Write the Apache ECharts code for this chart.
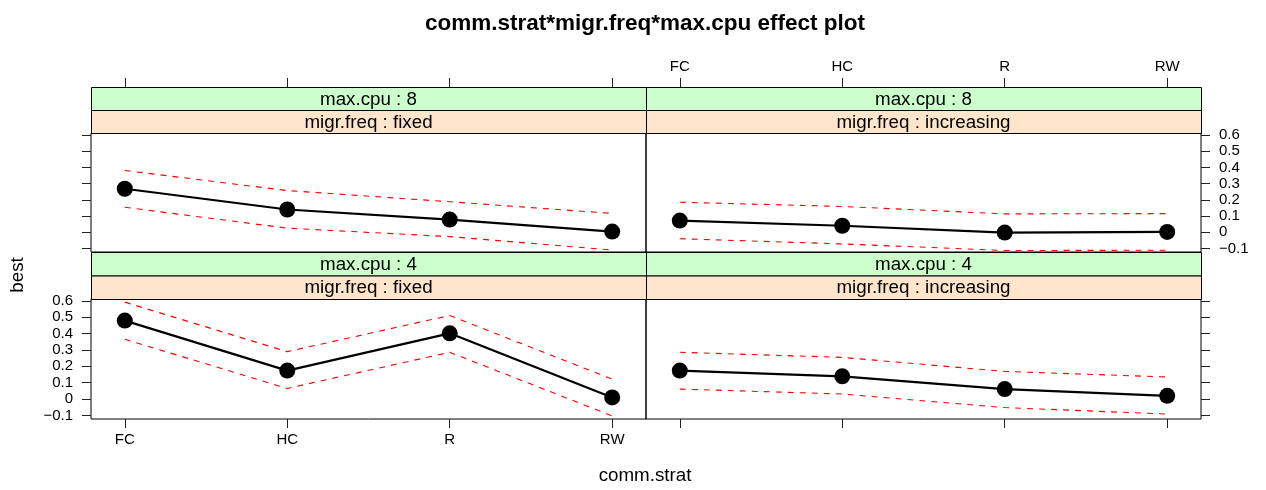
<!DOCTYPE html>
<html>
<head>
<meta charset="utf-8">
<script src="https://cdn.jsdelivr.net/npm/echarts@6/dist/echarts.min.js"></script>
<style>
html,body{margin:0;padding:0;background:#fff;}
#chart{width:1266px;height:490px;}
</style>
</head>
<body>
<div id="chart"></div>
<script>
// ---- data ----
const categories = ['FC', 'HC', 'R', 'RW'];
const yTicks = [-0.1, 0, 0.1, 0.2, 0.3, 0.4, 0.5, 0.6];
const yTickLabels = ['\u22120.1', '0', '0.1', '0.2', '0.3', '0.4', '0.5', '0.6'];

// max.cpu : 8, migr.freq : fixed
const fitCpu8Fixed   = [0.268, 0.140, 0.078, 0.004];
const upperCpu8Fixed = [0.381, 0.257, 0.188, 0.116];
const lowerCpu8Fixed = [0.154, 0.025, -0.027, -0.110];
// max.cpu : 8, migr.freq : increasing
const fitCpu8Incr    = [0.072, 0.040, -0.002, 0.002];
const upperCpu8Incr  = [0.185, 0.159, 0.113, 0.115];
const lowerCpu8Incr  = [-0.040, -0.072, -0.113, -0.111];
// max.cpu : 4, migr.freq : fixed
const fitCpu4Fixed   = [0.480, 0.174, 0.402, 0.010];
const upperCpu4Fixed = [0.593, 0.290, 0.511, 0.122];
const lowerCpu4Fixed = [0.366, 0.065, 0.286, -0.103];
// max.cpu : 4, migr.freq : increasing
const fitCpu4Incr    = [0.174, 0.139, 0.061, 0.020];
const upperCpu4Incr  = [0.286, 0.255, 0.169, 0.135];
const lowerCpu4Incr  = [0.061, 0.031, -0.052, -0.092];

const stripTop = ['max.cpu : 8', 'max.cpu : 8', 'max.cpu : 4', 'max.cpu : 4'];
const stripBottom = ['migr.freq : fixed', 'migr.freq : increasing', 'migr.freq : fixed', 'migr.freq : increasing'];

// ---- layout ----
const FONT = "'Liberation Sans', Arial, sans-serif";
const L = 91, MID = 646, R = 1201;
const PW = MID - L;
const rows = [{ s1: 87, s2: 110, top: 133, h: 119 }, { s1: 252, s2: 275.5, top: 299, h: 120 }];
const panels = [
  { col: 0, row: 0, fit: fitCpu8Fixed, up: upperCpu8Fixed, lo: lowerCpu8Fixed },
  { col: 1, row: 0, fit: fitCpu8Incr, up: upperCpu8Incr, lo: lowerCpu8Incr },
  { col: 0, row: 1, fit: fitCpu4Fixed, up: upperCpu4Fixed, lo: lowerCpu4Fixed },
  { col: 1, row: 1, fit: fitCpu4Incr, up: upperCpu4Incr, lo: lowerCpu4Incr }
];
const toXY = arr => arr.map((v, i) => [i + 1, v]);

const grid = [], xAxis = [], yAxis = [], series = [], graphic = [];
panels.forEach((p, i) => {
  const r = rows[p.row];
  const left = p.col === 0 ? L : MID;
  grid.push({ left: left, top: r.top, width: PW, height: r.h, show: true,
    borderColor: '#000', borderWidth: 1, backgroundColor: 'transparent' });
  const xLabels = (p.row === 0 && p.col === 1) || (p.row === 1 && p.col === 0);
  xAxis.push({
    type: 'value', gridIndex: i, min: 0.792, max: 4.208,
    position: p.row === 0 ? 'top' : 'bottom',
    offset: p.row === 0 ? (r.top - r.s1) : 0,
    axisLine: { show: false, onZero: false }, splitLine: { show: false },
    axisTick: { show: true, inside: false, length: 9, customValues: [1, 2, 3, 4],
      lineStyle: { color: '#222', width: 1 } },
    axisLabel: { show: xLabels, customValues: [1, 2, 3, 4], margin: 13,
      fontFamily: FONT, fontSize: 15, color: '#000',
      formatter: v => categories[Math.round(v) - 1] }
  });
  const yLabels = (p.row === 0 && p.col === 1) || (p.row === 1 && p.col === 0);
  yAxis.push({
    type: 'value', gridIndex: i, min: -0.122, max: 0.612,
    position: p.col === 0 ? 'left' : 'right',
    axisLine: { show: false, onZero: false }, splitLine: { show: false },
    axisTick: { show: true, inside: false, length: 9, customValues: yTicks,
      lineStyle: { color: '#222', width: 1 } },
    axisLabel: { show: yLabels, customValues: yTicks, margin: 18,
      fontFamily: FONT, fontSize: 15, color: '#000',
      formatter: v => { const k = yTicks.findIndex(t => Math.abs(t - v) < 1e-6); return k >= 0 ? yTickLabels[k] : ''; } }
  });
  const dashed = { color: '#ff0000', width: 1.1, type: [6, 6] };
  series.push({ type: 'line', xAxisIndex: i, yAxisIndex: i, data: toXY(p.up), symbol: 'none',
    lineStyle: dashed, silent: true, z: 2 });
  series.push({ type: 'line', xAxisIndex: i, yAxisIndex: i, data: toXY(p.lo), symbol: 'none',
    lineStyle: dashed, silent: true, z: 2 });
  series.push({ type: 'line', xAxisIndex: i, yAxisIndex: i, data: toXY(p.fit), symbol: 'circle',
    symbolSize: 16, itemStyle: { color: '#000' }, lineStyle: { color: '#000', width: 2.2 },
    silent: true, z: 3 });
  // strips
  graphic.push({ type: 'rect', shape: { x: left + 0.5, y: r.s1 + 0.5, width: PW, height: r.s2 - r.s1 },
    style: { fill: '#ccffcc', stroke: '#000', lineWidth: 1 }, z: 10 });
  graphic.push({ type: 'rect', shape: { x: left + 0.5, y: r.s2 + 0.5, width: PW, height: r.top - r.s2 },
    style: { fill: '#ffe5cc', stroke: '#000', lineWidth: 1 }, z: 10 });
  graphic.push({ type: 'text', x: left + PW / 2, y: (r.s1 + r.s2) / 2 + 1, z: 11,
    style: { text: stripTop[i], font: '18.75px ' + FONT, fill: '#000', align: 'center', verticalAlign: 'middle' } });
  graphic.push({ type: 'text', x: left + PW / 2, y: (r.s2 + r.top) / 2 + 1, z: 11,
    style: { text: stripBottom[i], font: '18.75px ' + FONT, fill: '#000', align: 'center', verticalAlign: 'middle' } });
});

graphic.push({ type: 'text', x: 18, y: 275, rotation: Math.PI / 2,
  style: { text: 'best', font: '18.75px ' + FONT, fill: '#000', align: 'center', verticalAlign: 'middle' } });
graphic.push({ type: 'text', x: 645, y: 476,
  style: { text: 'comm.strat', font: '18.75px ' + FONT, fill: '#000', align: 'center', verticalAlign: 'middle' } });

const chart = echarts.init(document.getElementById('chart'), null, { renderer: 'canvas' });
chart.setOption({
  animation: false,
  backgroundColor: '#fff',
  title: { text: 'comm.strat*migr.freq*max.cpu effect plot', left: 640, top: 7, textAlign: 'center',
    textStyle: { fontFamily: FONT, fontSize: 22.5, fontWeight: 'bold', color: '#000' } },
  grid, xAxis, yAxis, series, graphic
});
</script>
</body>
</html>
